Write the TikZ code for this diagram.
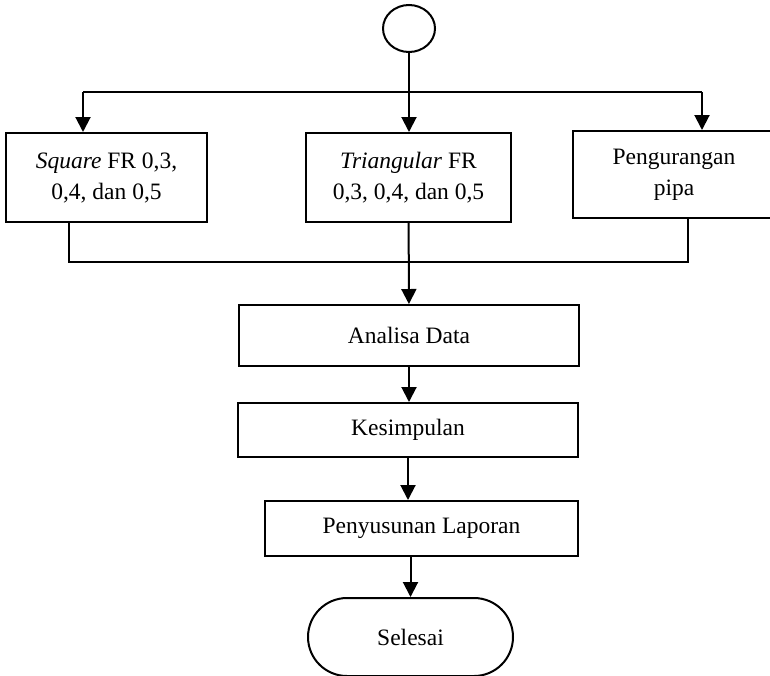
\documentclass[tikz,border=0pt]{standalone}
\usepackage{fontspec}
\setmainfont{Liberation Serif}
\usetikzlibrary{positioning,arrows.meta,shapes.geometric}

\begin{document}
\begin{tikzpicture}[
  x=0.5pt,y=-0.5pt,
  font=\fontsize{11.75}{15.5}\selectfont,
  >={Triangle[length=7.5pt,width=7.5pt]},
  box/.style={draw=black,line width=1pt,align=center,inner sep=2pt},
  proc/.style={box,minimum width=100.5pt,minimum height=44.5pt},
  wide/.style={box,minimum width=170pt},
  term/.style={box,rounded corners=19.5pt,minimum width=102.5pt,minimum height=39pt},
  line/.style={line width=1pt,black},
  flow/.style={->,line width=1pt,black},
]
\useasboundingbox (0,0) rectangle (770,675);

% ---------- START ----------
\node[draw=black,line width=1pt,ellipse,inner sep=0pt,minimum width=26pt,minimum height=23.5pt] (start) at (409,28.5) {};

% ---------- BRANCHES ----------
\node[proc] (sq) at (106.5,177.5) {\textit{Square} FR 0,3,\\0,4, dan 0,5};
\node[proc,minimum width=102.5pt] (tri) at (408.5,177.5) {\textit{Triangular} FR\\0,3, 0,4, dan 0,5};
\node[proc,minimum width=101pt,minimum height=43.5pt] (pipa) at (674,174.5) {Pengurangan\\pipa};

% ---------- MAIN STEPS ----------
\node[wide,minimum height=30.5pt] (analisa) at (409,335.5) {Analisa Data};
\node[wide,minimum height=27pt] (kes) at (408,430) {Kesimpulan};
\node[box,minimum width=156.5pt,minimum height=27.5pt] (lap) at (421.5,528.5) {Penyusunan Laporan};
\node[term] (end) at (410.5,637) {Selesai};

% ---------- SPLIT ----------
\coordinate (split) at (409,92);
\coordinate (splitL) at (83,92);
\coordinate (splitR) at (702,92);
\draw[line] (start) -- (split);
\draw[line] (splitL) -- (splitR);
\draw[flow] (splitL) -- (splitL |- sq.north);
\draw[flow] (split) -- (split |- tri.north);
\draw[flow] (splitR) -- (splitR |- pipa.north);

% ---------- MERGE ----------
\coordinate (mergeL) at (69,262);
\coordinate (mergeR) at (688,262);
\draw[line] (mergeL |- sq.south) -- (mergeL) -- (mergeR) -- (mergeR |- pipa.south);
\draw[flow] (tri) -- (analisa);

% ---------- MAIN ARROWS ----------
\draw[flow] (analisa) -- (analisa.south |- kes.north);
\draw[flow] (kes) -- (kes.south |- lap.north);
\draw[flow] (end.north |- lap.south) -- (end);

\end{tikzpicture}
\end{document}
